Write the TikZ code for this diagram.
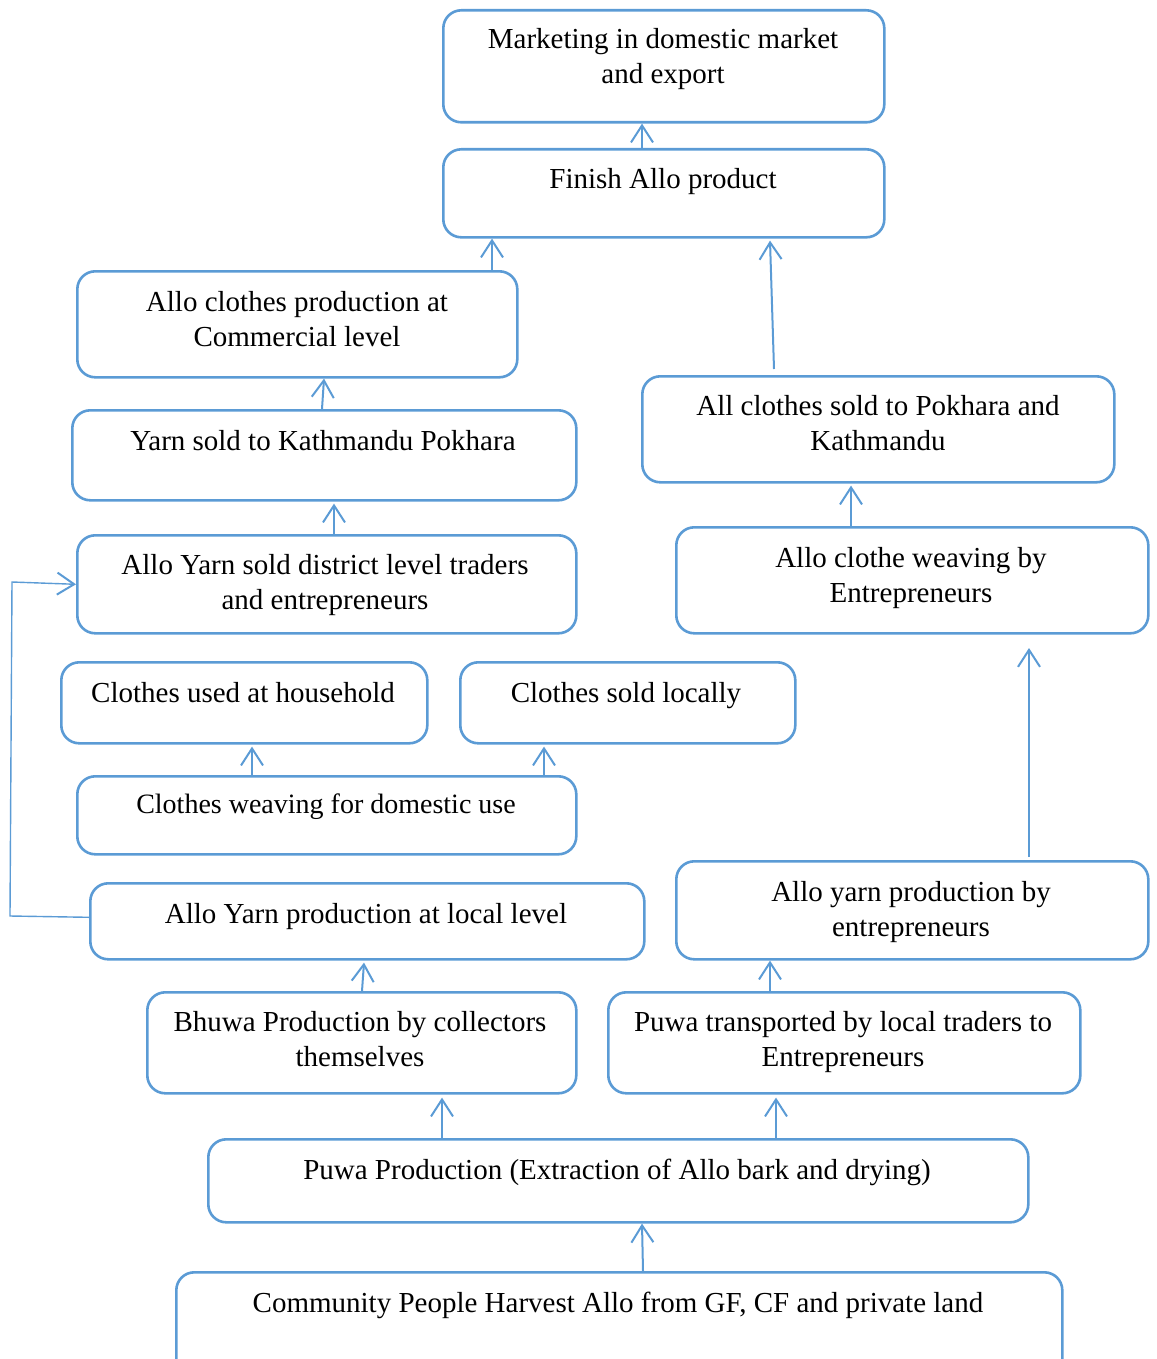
\documentclass[tikz,border=0pt]{standalone}
\usepackage{fontspec}
\setmainfont{Liberation Serif}
\usetikzlibrary{arrows.meta}
\definecolor{boxblue}{RGB}{91,155,213}
\begin{document}
\begin{tikzpicture}[x=1pt,y=-1pt,
  box/.style={draw=boxblue, line width=2.6pt, rounded corners=18pt, anchor=north west, inner sep=0pt},
  lbl/.style={anchor=base, align=center, inner sep=0pt, font=\fontsize{29}{35}\selectfont},
  arr/.style={draw=boxblue, line width=2pt, -{Straight Barb[length=17pt,width=22pt,line width=2pt]}},
  arrthin/.style={draw=boxblue, line width=1.4pt, -{Straight Barb[length=17pt,width=22pt,line width=2pt]}}]
\clip (0,0) rectangle (1156,1359);
\useasboundingbox (0,0) rectangle (1156,1359);
% boxes
\node[box, minimum width=441pt, minimum height=112pt] (m) at (442,9) {};
\node[box, minimum width=441pt, minimum height=88pt] (f) at (442,148) {};
\node[box, minimum width=440pt, minimum height=106pt] (cp) at (76,270) {};
\node[box, minimum width=504pt, minimum height=90pt] (ys) at (71,409) {};
\node[box, minimum width=499pt, minimum height=98pt] (yd) at (76,534) {};
\node[box, minimum width=366pt, minimum height=81pt] (hh) at (60,661) {};
\node[box, minimum width=335pt, minimum height=81pt] (sl) at (459,661) {};
\node[box, minimum width=499pt, minimum height=78pt] (cw) at (76,775) {};
\node[box, minimum width=554pt, minimum height=76pt] (yl) at (89,882) {};
\node[box, minimum width=429pt, minimum height=101pt] (bh) at (146,991) {};
\node[box, minimum width=472pt, minimum height=101pt] (pt) at (607,991) {};
\node[box, minimum width=820pt, minimum height=83pt] (pp) at (207,1138) {};
\node[box, minimum width=886pt, minimum height=110pt] (cm) at (175,1271) {};
\node[box, minimum width=472pt, minimum height=106pt] (cs) at (641,375) {};
\node[box, minimum width=472pt, minimum height=106pt] (cwe) at (675,526) {};
\node[box, minimum width=472pt, minimum height=98pt] (ype) at (675,860) {};
% labels (anchor base = baseline of last line)
\node[lbl] (mt) at (663,84) {Marketing in domestic market\\and export};
\node[lbl] (ft) at (663,189) {Finish Allo product};
\node[lbl] (cpt) at (297,346) {Allo clothes production at\\Commercial level};
\node[lbl] (yst) at (323,450) {Yarn sold to Kathmandu Pokhara};
\node[lbl] (ydt) at (325,609) {Allo Yarn sold district level traders\\and entrepreneurs};
\node[lbl] (hht) at (243,702) {Clothes used at household};
\node[lbl] (slt) at (626,702) {Clothes sold locally};
\node[lbl, font=\fontsize{28}{34}\selectfont] (cwt) at (326,813) {Clothes weaving for domestic use};
\node[lbl] (ylt) at (366,923) {Allo Yarn production at local level};
\node[lbl] (bht) at (360,1066) {Bhuwa Production by collectors\\themselves};
\node[lbl] (ptt) at (843,1066) {Puwa transported by local traders to\\Entrepreneurs};
\node[lbl] (ppt) at (617,1179) {Puwa Production (Extraction of Allo bark and drying)};
\node[lbl] (cmt) at (618,1312) {Community People Harvest Allo from GF, CF and private land};
\node[lbl] (cst) at (878,450) {All clothes sold to Pokhara and\\Kathmandu};
\node[lbl] (cwet) at (911,602) {Allo clothe weaving by\\Entrepreneurs};
\node[lbl] (ypet) at (911,936) {Allo yarn production by\\entrepreneurs};
% connectors
\coordinate (ypeend) at (1029,648);
\draw[arr] ([xshift=200pt]f.north west) -- ([xshift=200pt]m.south west);
\draw[arr] ([xshift=416pt]cp.north west) -- ([xshift=50pt]f.south west);
\draw[arr] ([xshift=133pt,yshift=6pt]cs.north west) -- ([xshift=328pt,yshift=-2pt]f.south west);
\draw[arr] ([xshift=251pt]ys.north west) -- ([xshift=248pt]cp.south west);
\draw[arr] ([xshift=258pt]yd.north west) -- ([xshift=263pt,yshift=-2pt]ys.south west);
\draw[arr] ([xshift=176pt]cwe.north west) -- ([xshift=210pt,yshift=-2pt]cs.south west);
\draw[arr] ([xshift=354pt,yshift=3pt]ype.north west) -- (ypeend);
\draw[arr] ([xshift=176pt]cw.north west) -- ([xshift=192pt,yshift=-2pt]hh.south west);
\draw[arr] ([xshift=468pt]cw.north west) -- ([xshift=85pt,yshift=-2pt]sl.south west);
\draw[arrthin] ([yshift=4pt]yl.west) -- (10,916) -- (12,582) -- (yd.west);
\draw[arr] ([xshift=216pt]bh.north west) -- ([xshift=275pt,yshift=-2pt]yl.south west);
\draw[arr] ([xshift=163pt]pt.north west) -- ([xshift=95pt]ype.south west);
\draw[arr] ([xshift=235pt]pp.north west) -- ([xshift=296pt,yshift=-3pt]bh.south west);
\draw[arr] ([xshift=569pt]pp.north west) -- ([xshift=169pt,yshift=-3pt]pt.south west);
\draw[arr] ([xshift=468pt]cm.north west) -- ([xshift=435pt]pp.south west);
\end{tikzpicture}
\end{document}
